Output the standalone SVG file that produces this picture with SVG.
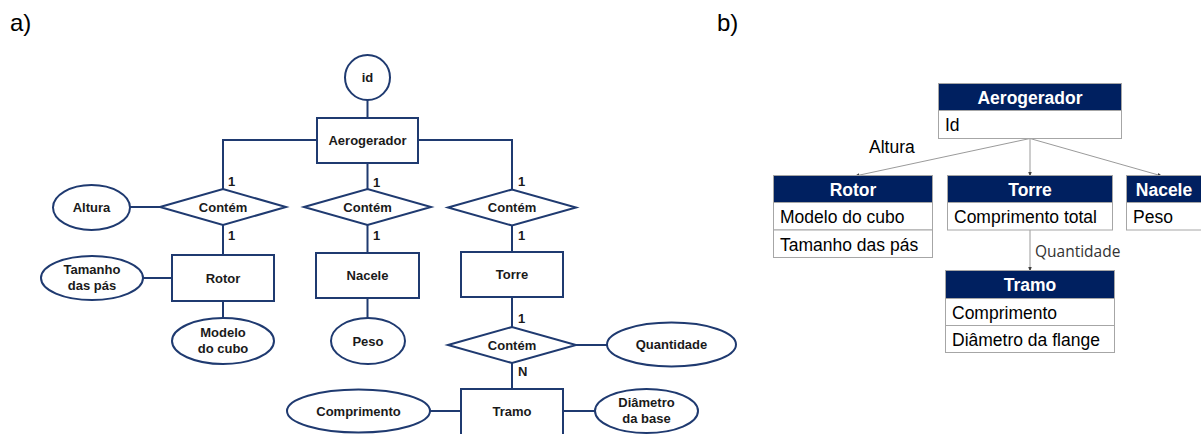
<svg xmlns="http://www.w3.org/2000/svg" width="1201" height="434" viewBox="0 0 1201 434">
  <defs>
    <style>
      .panel { font-family: "Liberation Sans", Arial, sans-serif; font-size: 24px; fill: #000; }
      .er { fill: #fff; stroke: #1f3a70; stroke-width: 2; }
      .erline { fill: none; stroke: #1f3a70; stroke-width: 2; }
      .ert { font-family: "Liberation Sans", Arial, sans-serif; font-size: 13px; font-weight: bold; fill: #1a1a1a; text-anchor: middle; }
      .card { font-family: "Liberation Sans", Arial, sans-serif; font-size: 13px; font-weight: bold; fill: #1a1a1a; }
      .hdr { fill: #002060; stroke: #a6a6a6; stroke-width: 1; }
      .row { fill: #fff; stroke: #a6a6a6; stroke-width: 1; }
      .ht { font-family: "Liberation Sans", Arial, sans-serif; font-size: 17.5px; font-weight: bold; fill: #fff; text-anchor: middle; }
      .rt { font-family: "Liberation Sans", Arial, sans-serif; font-size: 17.5px; fill: #000; }
      .rel { fill: none; stroke: #808080; stroke-width: 0.8; marker-end: url(#arr); }
    </style>
    <marker id="arr" viewBox="0 0 8 8" refX="7" refY="4" markerWidth="5" markerHeight="5" orient="auto" markerUnits="userSpaceOnUse">
      <path d="M0,1 L8,4 L0,7 z" fill="#404040"/>
    </marker>
  </defs>
  <rect width="1201" height="434" fill="#fff"/>

  <text class="panel" x="10" y="31">a)</text>
  <text class="panel" x="717" y="31">b)</text>

  <!-- ER connectors -->
  <g id="er-connectors">
    <line class="erline" x1="367.5" y1="100" x2="367.5" y2="118"/>
    <polyline class="erline" points="317,140 223,140 223,189"/>
    <line class="erline" x1="367.5" y1="163" x2="367.5" y2="189"/>
    <polyline class="erline" points="418,140 512,140 512,189"/>
    <line class="erline" x1="223" y1="225" x2="223" y2="255"/>
    <line class="erline" x1="367.5" y1="225" x2="367.5" y2="253"/>
    <line class="erline" x1="512" y1="225" x2="512" y2="252"/>
    <line class="erline" x1="130" y1="207" x2="160" y2="207"/>
    <line class="erline" x1="143" y1="278" x2="172" y2="278"/>
    <line class="erline" x1="223" y1="301" x2="223" y2="318"/>
    <line class="erline" x1="367.5" y1="298" x2="367.5" y2="318"/>
    <line class="erline" x1="512" y1="297" x2="512" y2="327"/>
    <line class="erline" x1="576" y1="345" x2="607" y2="345"/>
    <line class="erline" x1="512" y1="363" x2="512" y2="389"/>
    <line class="erline" x1="430" y1="411" x2="461" y2="411"/>
    <line class="erline" x1="563" y1="411" x2="595" y2="411"/>
  </g>

  <!-- cardinalities -->
  <g id="er-cardinalities">
    <text class="card" x="228" y="186">1</text>
    <text class="card" x="228" y="240">1</text>
    <text class="card" x="373" y="187">1</text>
    <text class="card" x="373" y="240">1</text>
    <text class="card" x="518" y="186">1</text>
    <text class="card" x="518" y="240">1</text>
    <text class="card" x="518" y="323">1</text>
    <text class="card" x="518" y="376">N</text>
  </g>

  <!-- ER entities, relationships and attributes -->
  <g id="er-id">
    <circle class="er" cx="367.5" cy="77.5" r="22.5"/>
    <text class="ert" x="367.5" y="82">id</text>
  </g>
  <g id="er-aerogerador">
    <rect class="er" x="317" y="118" width="101" height="45"/>
    <text class="ert" x="367.5" y="145">Aerogerador</text>
  </g>
  <g id="er-contem-rotor">
    <polygon class="er" points="160,207 223,189 286,207 223,225"/>
    <text class="ert" x="223" y="212">Contém</text>
  </g>
  <g id="er-contem-nacele">
    <polygon class="er" points="304,207 367.5,189 431,207 367.5,225"/>
    <text class="ert" x="367.5" y="212">Contém</text>
  </g>
  <g id="er-contem-torre">
    <polygon class="er" points="448,207.5 512,189.5 576,207.5 512,225.5"/>
    <text class="ert" x="512" y="212">Contém</text>
  </g>
  <g id="er-altura">
    <ellipse class="er" cx="91.5" cy="207.5" rx="38.5" ry="22.5"/>
    <text class="ert" x="91.5" y="212">Altura</text>
  </g>
  <g id="er-rotor">
    <rect class="er" x="172" y="255" width="102" height="46"/>
    <text class="ert" x="223" y="283">Rotor</text>
  </g>
  <g id="er-tamanho">
    <ellipse class="er" cx="92" cy="278" rx="51" ry="22"/>
    <text class="ert" x="92" y="274">Tamanho</text>
    <text class="ert" x="92" y="290">das pás</text>
  </g>
  <g id="er-modelo">
    <ellipse class="er" cx="223" cy="341" rx="51" ry="23"/>
    <text class="ert" x="223" y="337">Modelo</text>
    <text class="ert" x="223" y="353">do cubo</text>
  </g>
  <g id="er-nacele">
    <rect class="er" x="316" y="253" width="103" height="45"/>
    <text class="ert" x="367.5" y="280">Nacele</text>
  </g>
  <g id="er-peso">
    <ellipse class="er" cx="368" cy="341" rx="37" ry="23"/>
    <text class="ert" x="368" y="345.5">Peso</text>
  </g>
  <g id="er-torre">
    <rect class="er" x="461" y="252" width="102" height="45"/>
    <text class="ert" x="512" y="279">Torre</text>
  </g>
  <g id="er-contem-tramo">
    <polygon class="er" points="448,345 512,327 576,345 512,363"/>
    <text class="ert" x="512" y="350">Contém</text>
  </g>
  <g id="er-quantidade">
    <ellipse class="er" cx="671.5" cy="344.5" rx="64.5" ry="22"/>
    <text class="ert" x="671.5" y="349">Quantidade</text>
  </g>
  <g id="er-tramo">
    <rect class="er" x="461" y="389" width="102" height="46"/>
    <text class="ert" x="512" y="416">Tramo</text>
  </g>
  <g id="er-comprimento">
    <ellipse class="er" cx="358.5" cy="411" rx="71.5" ry="21.5"/>
    <text class="ert" x="358.5" y="415.5">Comprimento</text>
  </g>
  <g id="er-diametro">
    <ellipse class="er" cx="646.5" cy="411" rx="51.5" ry="22"/>
    <text class="ert" x="646.5" y="407">Diâmetro</text>
    <text class="ert" x="646.5" y="423">da base</text>
  </g>

  <!-- table connectors -->
  <g id="table-connectors">
    <line class="rel" x1="1030" y1="138.5" x2="855" y2="176"/>
    <line class="rel" x1="1030" y1="138.5" x2="1030" y2="176"/>
    <line class="rel" x1="1030" y1="138.5" x2="1162" y2="176"/>
    <line class="rel" x1="1030" y1="230" x2="1030" y2="271"/>
    <text class="rt" x="869" y="153">Altura</text>
    <text x="1035" y="257" style="font-family: 'Open Sans', sans-serif; font-size: 15.5px; fill: #333;">Quantidade</text>
  </g>

  <!-- tables -->
  <g id="tb-aerogerador">
    <rect class="hdr" x="938.5" y="83.5" width="183" height="27"/>
    <rect class="row" x="938.5" y="110.5" width="183" height="28"/>
    <text class="ht" x="1030" y="104">Aerogerador</text>
    <text class="rt" x="945" y="131">Id</text>
  </g>
  <g id="tb-rotor">
    <rect class="hdr" x="773.5" y="175.5" width="159" height="27"/>
    <rect class="row" x="773.5" y="202.5" width="159" height="27.5"/>
    <rect class="row" x="773.5" y="230" width="159" height="27.5"/>
    <text class="ht" x="853" y="196">Rotor</text>
    <text class="rt" x="780" y="223">Modelo do cubo</text>
    <text class="rt" x="780" y="250.5">Tamanho das pás</text>
  </g>
  <g id="tb-torre">
    <rect class="hdr" x="947.5" y="175.5" width="165" height="27"/>
    <rect class="row" x="947.5" y="202.5" width="165" height="27.5"/>
    <text class="ht" x="1030" y="196">Torre</text>
    <text class="rt" x="954" y="223">Comprimento total</text>
  </g>
  <g id="tb-nacele">
    <rect class="hdr" x="1126.5" y="175.5" width="76" height="27"/>
    <rect class="row" x="1126.5" y="202.5" width="76" height="27.5"/>
    <text class="ht" x="1164" y="196">Nacele</text>
    <text class="rt" x="1133" y="223">Peso</text>
  </g>
  <g id="tb-tramo">
    <rect class="hdr" x="945.5" y="270.5" width="169" height="28"/>
    <rect class="row" x="945.5" y="298.5" width="169" height="27"/>
    <rect class="row" x="945.5" y="325.5" width="169" height="27"/>
    <text class="ht" x="1030" y="291">Tramo</text>
    <text class="rt" x="952" y="318.5">Comprimento</text>
    <text class="rt" x="952" y="345.5">Diâmetro da flange</text>
  </g>
</svg>
